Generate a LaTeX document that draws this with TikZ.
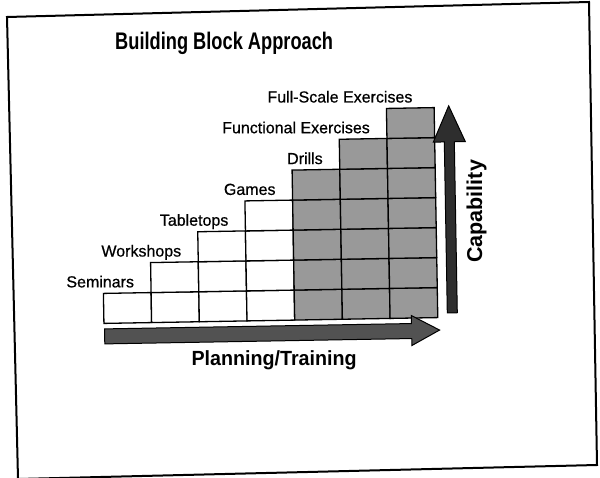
\documentclass[tikz,border=0pt]{standalone}
\usepackage{fontspec}
\setmainfont{Liberation Sans}
\newfontfamily\titlefont{Liberation Sans}[FakeStretch=0.76]
\newfontfamily\axisfont{Liberation Sans}[FakeStretch=0.96]
\newfontfamily\labelfont{Liberation Sans}[FakeBold=0.6]
\begin{document}
\begin{tikzpicture}[x=1pt,y=-1pt,
  cell/.style={draw=black,line width=1.3pt},
  shadedcell/.style={cell,fill=black!40},
  plaincell/.style={cell,fill=white},
  lbl/.style={anchor=base east,inner sep=0pt,font=\labelfont\fontsize{16}{18}\selectfont},
  bigarrow/.style={draw=black,line width=1pt,line join=miter},
  axislbl/.style={inner sep=0pt,font=\axisfont\bfseries\fontsize{20.5}{24}\selectfont},
  ]
\useasboundingbox (0,0) rectangle (600,478);
\fill[white] (0,0) rectangle (600,478);
\draw[line width=2pt,line join=miter] (7,17) -- (589,2) -- (597,465) -- (18,479) -- cycle;
\begin{scope}[rotate around={1:(270,240)}]
  \node[anchor=base,inner sep=0pt,font=\titlefont\bfseries\fontsize{24}{28}\selectfont] (title) at (227.5,49) {Building Block Approach};
  % white blocks
  \foreach \k in {1,...,4}{
    \foreach \r in {1,...,\k}{
      \draw[plaincell] ({102.5+47.7*(\k-1)},{320.5-30*(\r-1)}) rectangle ({102.5+47.7*\k},{320.5-30*\r});
    }
  }
  % shaded blocks
  \foreach \k in {5,...,7}{
    \foreach \r in {1,...,\k}{
      \draw[shadedcell] ({102.5+47.7*(\k-1)},{320.5-30*(\r-1)}) rectangle ({102.5+47.7*\k},{320.5-30*\r});
    }
  }
  \node[lbl] (seminars)   at (133.4,285) {Seminars};
  \node[lbl] (workshops)  at (181.1,255) {Workshops};
  \node[lbl] (tabletops)  at (228.8,225) {Tabletops};
  \node[lbl] (games)      at (276.5,195) {Games};
  \node[lbl] (drills)     at (324.2,165) {Drills};
  \node[lbl] (functional) at (371.9,135) {Functional Exercises};
  \node[lbl] (fullscale)  at (415,105) {Full-Scale Exercises};
  % horizontal arrow
  \draw[bigarrow,fill=black!68] (103,326) -- (410,326) -- (410,318) -- (438,333) -- (410,348) -- (410,341) -- (103,341) -- cycle;
  \coordinate (harrowtip) at (438,333);
  % vertical arrow
  \draw[bigarrow,fill=black!82] (446,316) -- (446,145) -- (435,145) -- (451,109) -- (467,145) -- (456,145) -- (456,316) -- cycle;
  \coordinate (varrowtip) at (451,109);
  \node[axislbl,rotate=90,font=\bfseries\fontsize{21.5}{24}\selectfont] (capability) at (477,215) {Capability};
  \node[axislbl] (planning) at (272,360) {Planning/Training};
\end{scope}
\end{tikzpicture}
\end{document}
